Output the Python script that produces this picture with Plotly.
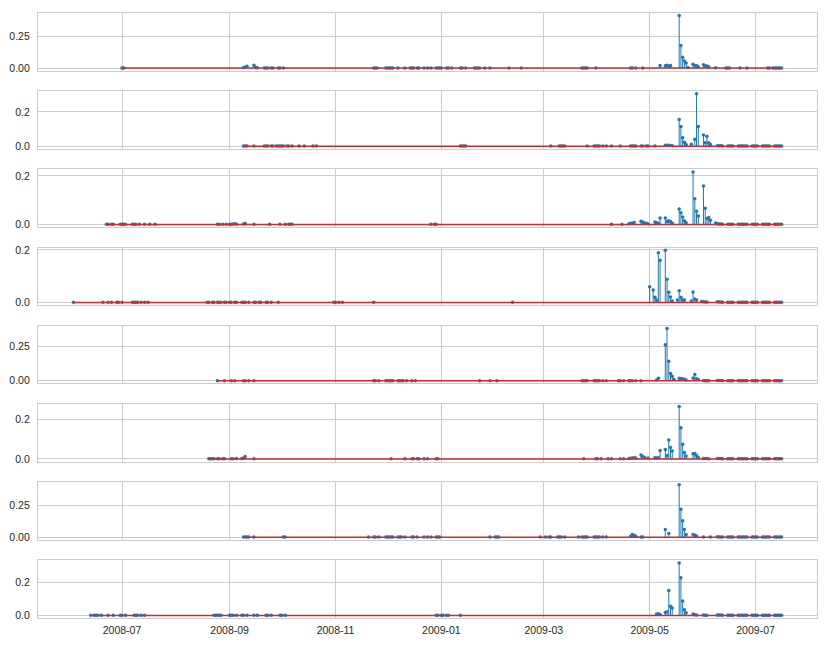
import plotly.graph_objects as go
from plotly.subplots import make_subplots
import pandas as pd

# ---------------- data (date, value) ----------------
s1 = [
    ("2008-07-01", 0.001), ("2008-07-02", 0.001),
    ("2008-09-09", 0.005), ("2008-09-10", 0.009), ("2008-09-11", 0.014), ("2008-09-15", 0.022),
    ("2008-09-16", 0.004), ("2008-09-17", 0.002),
    ("2008-09-21", 0.001), ("2008-09-22", 0.001), ("2008-09-23", 0.001), ("2008-09-25", 0.001), ("2008-09-26", 0.001),
    ("2008-09-29", 0.001), ("2008-09-30", 0.001), ("2008-10-02", 0.001),
    ("2008-11-23", 0.001), ("2008-11-24", 0.001), ("2008-11-25", 0.001),
    ("2008-11-30", 0.001), ("2008-12-01", 0.001), ("2008-12-02", 0.001), ("2008-12-03", 0.001), ("2008-12-04", 0.001),
    ("2008-12-07", 0.001), ("2008-12-11", 0.001), ("2008-12-14", 0.001), ("2008-12-15", 0.001), ("2008-12-16", 0.001),
    ("2008-12-18", 0.001), ("2008-12-19", 0.001), ("2008-12-22", 0.001), ("2008-12-24", 0.001), ("2008-12-26", 0.001),
    ("2008-12-29", 0.001), ("2008-12-30", 0.001), ("2008-12-31", 0.001), ("2009-01-01", 0.001),
    ("2009-01-04", 0.001), ("2009-01-05", 0.001), ("2009-01-07", 0.001), ("2009-01-12", 0.001), ("2009-01-13", 0.001),
    ("2009-01-15", 0.001), ("2009-01-20", 0.001), ("2009-01-21", 0.001), ("2009-01-22", 0.001), ("2009-01-23", 0.001),
    ("2009-01-26", 0.001), ("2009-01-29", 0.001), ("2009-02-09", 0.001), ("2009-02-16", 0.001),
    ("2009-03-23", 0.001), ("2009-03-24", 0.001), ("2009-03-25", 0.001), ("2009-03-26", 0.001), ("2009-03-31", 0.001),
    ("2009-04-20", 0.001), ("2009-04-21", 0.001), ("2009-04-23", 0.001), ("2009-04-27", 0.001),
    ("2009-05-07", 0.020), ("2009-05-10", 0.018), ("2009-05-11", 0.022), ("2009-05-12", 0.014), ("2009-05-13", 0.020),
    ("2009-05-18", 0.417), ("2009-05-19", 0.180), ("2009-05-20", 0.086), ("2009-05-21", 0.055), ("2009-05-22", 0.040),
    ("2009-05-23", 0.005),
    ("2009-05-26", 0.029), ("2009-05-27", 0.020), ("2009-05-28", 0.018), ("2009-05-29", 0.010),
    ("2009-06-01", 0.025), ("2009-06-02", 0.015), ("2009-06-03", 0.016), ("2009-06-04", 0.010),
    ("2009-06-08", 0.002), ("2009-06-14", 0.001), ("2009-06-15", 0.001), ("2009-06-16", 0.001),
    ("2009-06-22", 0.001), ("2009-06-26", 0.001),
    ("2009-07-08", 0.001), ("2009-07-09", 0.001), ("2009-07-11", 0.001), ("2009-07-12", 0.001),
    ("2009-07-13", 0.001), ("2009-07-14", 0.001), ("2009-07-15", 0.001), ("2009-07-16", 0.001),
]

tail_dates = ["2009-06-09", "2009-06-10", "2009-06-11", "2009-06-12",
              "2009-06-15", "2009-06-16", "2009-06-17", "2009-06-18",
              "2009-06-21", "2009-06-22", "2009-06-23", "2009-06-24", "2009-06-25", "2009-06-26",
              "2009-06-29", "2009-06-30", "2009-07-01", "2009-07-02",
              "2009-07-05", "2009-07-06", "2009-07-07", "2009-07-08", "2009-07-09",
              "2009-07-12", "2009-07-13", "2009-07-14", "2009-07-15", "2009-07-16"]
tail_values = [0.003, 0.002, 0.002, 0.001,
               0.001, 0.001, 0.001, 0.001,
               0.001, 0.001, 0.001, 0.001, 0.001, 0.001,
               0.001, 0.001, 0.001, 0.001,
               0.001, 0.001, 0.001, 0.001, 0.001,
               0.001, 0.001, 0.001, 0.001, 0.001]
tail = list(zip(tail_dates, tail_values))

s2 = [
    ("2008-09-09", 0.001), ("2008-09-10", 0.001), ("2008-09-11", 0.001), ("2008-09-15", 0.001),
    ("2008-09-21", 0.001), ("2008-09-22", 0.001), ("2008-09-23", 0.001), ("2008-09-25", 0.001), ("2008-09-26", 0.001),
    ("2008-09-28", 0.001), ("2008-09-29", 0.001), ("2008-09-30", 0.001), ("2008-10-01", 0.001), ("2008-10-02", 0.001),
    ("2008-10-04", 0.001), ("2008-10-05", 0.001), ("2008-10-07", 0.001), ("2008-10-11", 0.001), ("2008-10-14", 0.001),
    ("2008-10-19", 0.001), ("2008-10-21", 0.001),
    ("2009-01-12", 0.001), ("2009-01-13", 0.001), ("2009-01-14", 0.001), ("2009-01-15", 0.001),
    ("2009-03-05", 0.001), ("2009-03-10", 0.001), ("2009-03-11", 0.001), ("2009-03-12", 0.001), ("2009-03-13", 0.001),
    ("2009-03-26", 0.001), ("2009-03-30", 0.001), ("2009-03-31", 0.001), ("2009-04-01", 0.001), ("2009-04-02", 0.001),
    ("2009-04-04", 0.001), ("2009-04-06", 0.001), ("2009-04-09", 0.001), ("2009-04-14", 0.001),
    ("2009-04-20", 0.001), ("2009-04-21", 0.001), ("2009-04-22", 0.001), ("2009-04-23", 0.001),
    ("2009-04-26", 0.001), ("2009-04-27", 0.001), ("2009-04-29", 0.001), ("2009-04-30", 0.001), ("2009-05-04", 0.001),
    ("2009-05-10", 0.005), ("2009-05-11", 0.005), ("2009-05-12", 0.006), ("2009-05-13", 0.004), ("2009-05-14", 0.003),
    ("2009-05-18", 0.156), ("2009-05-19", 0.115), ("2009-05-20", 0.050), ("2009-05-21", 0.023), ("2009-05-22", 0.010),
    ("2009-05-25", 0.012), ("2009-05-27", 0.040), ("2009-05-28", 0.306), ("2009-05-29", 0.115),
    ("2009-06-01", 0.065), ("2009-06-02", 0.020), ("2009-06-03", 0.058), ("2009-06-04", 0.020), ("2009-06-05", 0.010),
] + tail

s3 = [
    ("2008-06-22", 0.001), ("2008-06-23", 0.001), ("2008-06-25", 0.001), ("2008-06-26", 0.001),
    ("2008-06-30", 0.001), ("2008-07-01", 0.001), ("2008-07-02", 0.001), ("2008-07-03", 0.001),
    ("2008-07-07", 0.001), ("2008-07-08", 0.001), ("2008-07-09", 0.001), ("2008-07-11", 0.001),
    ("2008-07-14", 0.001), ("2008-07-17", 0.001), ("2008-07-20", 0.001),
    ("2008-08-25", 0.001), ("2008-08-26", 0.001), ("2008-08-28", 0.001), ("2008-08-30", 0.001),
    ("2008-09-01", 0.001), ("2008-09-02", 0.001), ("2008-09-03", 0.002), ("2008-09-04", 0.003), ("2008-09-05", 0.001),
    ("2008-09-09", 0.002), ("2008-09-10", 0.004), ("2008-09-15", 0.001), ("2008-09-24", 0.001), ("2008-09-30", 0.001),
    ("2008-10-03", 0.001), ("2008-10-05", 0.001), ("2008-10-06", 0.001), ("2008-10-07", 0.001),
    ("2008-12-26", 0.001), ("2008-12-28", 0.001), ("2008-12-29", 0.001),
    ("2009-04-09", 0.001), ("2009-04-15", 0.001), ("2009-04-19", 0.003), ("2009-04-20", 0.005), ("2009-04-21", 0.005),
    ("2009-04-22", 0.008), ("2009-04-26", 0.013), ("2009-04-27", 0.010), ("2009-04-28", 0.006), ("2009-04-29", 0.005),
    ("2009-04-30", 0.003),
    ("2009-05-04", 0.010), ("2009-05-05", 0.007), ("2009-05-06", 0.005), ("2009-05-07", 0.026),
    ("2009-05-10", 0.026), ("2009-05-11", 0.012), ("2009-05-12", 0.015), ("2009-05-13", 0.012), ("2009-05-14", 0.005),
    ("2009-05-18", 0.063), ("2009-05-19", 0.048), ("2009-05-20", 0.031), ("2009-05-21", 0.015), ("2009-05-22", 0.007),
    ("2009-05-26", 0.216), ("2009-05-27", 0.106), ("2009-05-28", 0.054), ("2009-05-29", 0.035),
    ("2009-06-01", 0.158), ("2009-06-02", 0.067), ("2009-06-03", 0.024), ("2009-06-04", 0.028), ("2009-06-05", 0.017),
    ("2009-06-08", 0.006),
] + tail

s4 = [
    ("2008-06-03", 0.001), ("2008-06-20", 0.001), ("2008-06-23", 0.001), ("2008-06-25", 0.001),
    ("2008-06-28", 0.001), ("2008-06-29", 0.001), ("2008-07-01", 0.001),
    ("2008-07-07", 0.001), ("2008-07-08", 0.001), ("2008-07-09", 0.001), ("2008-07-10", 0.001), ("2008-07-12", 0.001),
    ("2008-07-14", 0.001), ("2008-07-16", 0.001),
    ("2008-08-19", 0.001), ("2008-08-20", 0.001), ("2008-08-22", 0.001), ("2008-08-23", 0.001),
    ("2008-08-25", 0.001), ("2008-08-26", 0.001), ("2008-08-27", 0.001), ("2008-08-29", 0.001), ("2008-08-30", 0.001),
    ("2008-09-01", 0.001), ("2008-09-02", 0.001), ("2008-09-04", 0.001), ("2008-09-05", 0.001),
    ("2008-09-08", 0.001), ("2008-09-09", 0.001), ("2008-09-10", 0.001), ("2008-09-12", 0.001),
    ("2008-09-15", 0.001), ("2008-09-16", 0.001), ("2008-09-18", 0.001), ("2008-09-19", 0.001),
    ("2008-09-22", 0.001), ("2008-09-23", 0.001), ("2008-09-25", 0.001), ("2008-09-29", 0.001),
    ("2008-10-31", 0.001), ("2008-11-01", 0.001), ("2008-11-03", 0.001), ("2008-11-05", 0.001), ("2008-11-23", 0.001),
    ("2009-02-11", 0.001),
    ("2009-05-01", 0.060), ("2009-05-03", 0.048), ("2009-05-04", 0.020), ("2009-05-05", 0.010),
    ("2009-05-06", 0.189), ("2009-05-07", 0.161),
    ("2009-05-10", 0.199), ("2009-05-11", 0.089), ("2009-05-12", 0.039), ("2009-05-13", 0.021), ("2009-05-14", 0.006),
    ("2009-05-17", 0.010), ("2009-05-18", 0.045), ("2009-05-19", 0.020), ("2009-05-20", 0.010), ("2009-05-21", 0.010),
    ("2009-05-25", 0.006), ("2009-05-26", 0.040), ("2009-05-27", 0.014), ("2009-05-28", 0.010),
    ("2009-05-31", 0.004), ("2009-06-01", 0.003), ("2009-06-02", 0.002), ("2009-06-03", 0.002),
] + tail

s5 = [
    ("2008-08-25", 0.001), ("2008-08-29", 0.001), ("2008-09-02", 0.001), ("2008-09-04", 0.001),
    ("2008-09-09", 0.001), ("2008-09-10", 0.001), ("2008-09-12", 0.001), ("2008-09-15", 0.001),
    ("2008-11-23", 0.001), ("2008-11-24", 0.001), ("2008-11-26", 0.001),
    ("2008-11-30", 0.001), ("2008-12-01", 0.001), ("2008-12-02", 0.001), ("2008-12-03", 0.001), ("2008-12-04", 0.001),
    ("2008-12-07", 0.001), ("2008-12-08", 0.001), ("2008-12-09", 0.001), ("2008-12-10", 0.001), ("2008-12-12", 0.001),
    ("2008-12-15", 0.001), ("2008-12-17", 0.001),
    ("2009-01-23", 0.001), ("2009-01-29", 0.001), ("2009-02-02", 0.001),
    ("2009-03-23", 0.001), ("2009-03-24", 0.001), ("2009-03-25", 0.001), ("2009-03-26", 0.001),
    ("2009-03-30", 0.001), ("2009-03-31", 0.001), ("2009-04-01", 0.001), ("2009-04-02", 0.001), ("2009-04-04", 0.001),
    ("2009-04-06", 0.001), ("2009-04-13", 0.001), ("2009-04-14", 0.001), ("2009-04-16", 0.001),
    ("2009-04-19", 0.001), ("2009-04-20", 0.001), ("2009-04-21", 0.001), ("2009-04-23", 0.001), ("2009-04-26", 0.001),
    ("2009-05-05", 0.005), ("2009-05-06", 0.019),
    ("2009-05-10", 0.262), ("2009-05-11", 0.382), ("2009-05-12", 0.142), ("2009-05-13", 0.053), ("2009-05-14", 0.034),
    ("2009-05-15", 0.010),
    ("2009-05-18", 0.019), ("2009-05-19", 0.016), ("2009-05-20", 0.014), ("2009-05-21", 0.012), ("2009-05-22", 0.005),
    ("2009-05-26", 0.020), ("2009-05-27", 0.046), ("2009-05-28", 0.015), ("2009-05-29", 0.010),
    ("2009-06-01", 0.002), ("2009-06-02", 0.001), ("2009-06-03", 0.001), ("2009-06-04", 0.001),
] + tail

s6 = [
    ("2008-08-20", 0.001), ("2008-08-21", 0.001), ("2008-08-22", 0.001), ("2008-08-23", 0.001), ("2008-08-25", 0.001),
    ("2008-08-26", 0.001), ("2008-08-28", 0.001), ("2008-08-29", 0.001),
    ("2008-09-02", 0.001), ("2008-09-03", 0.001), ("2008-09-05", 0.002),
    ("2008-09-08", 0.003), ("2008-09-09", 0.005), ("2008-09-10", 0.012), ("2008-09-15", 0.001),
    ("2008-12-03", 0.001), ("2008-12-11", 0.001), ("2008-12-15", 0.001), ("2008-12-16", 0.001), ("2008-12-18", 0.001),
    ("2008-12-19", 0.001), ("2008-12-22", 0.001), ("2008-12-24", 0.001), ("2008-12-29", 0.001), ("2008-12-30", 0.001),
    ("2009-03-24", 0.001), ("2009-03-31", 0.001), ("2009-04-01", 0.001), ("2009-04-03", 0.001), ("2009-04-07", 0.001),
    ("2009-04-09", 0.001), ("2009-04-14", 0.001), ("2009-04-16", 0.001),
    ("2009-04-19", 0.003), ("2009-04-20", 0.004), ("2009-04-21", 0.005), ("2009-04-22", 0.006), ("2009-04-23", 0.005),
    ("2009-04-26", 0.020), ("2009-04-27", 0.012), ("2009-04-28", 0.008), ("2009-04-30", 0.005),
    ("2009-05-04", 0.006), ("2009-05-05", 0.005), ("2009-05-06", 0.006), ("2009-05-07", 0.043),
    ("2009-05-10", 0.048), ("2009-05-11", 0.017), ("2009-05-12", 0.096), ("2009-05-13", 0.058), ("2009-05-14", 0.040),
    ("2009-05-18", 0.264), ("2009-05-19", 0.157), ("2009-05-20", 0.074), ("2009-05-21", 0.033), ("2009-05-22", 0.015),
    ("2009-05-26", 0.026), ("2009-05-27", 0.028), ("2009-05-28", 0.017), ("2009-05-29", 0.008),
    ("2009-06-01", 0.003), ("2009-06-02", 0.002), ("2009-06-03", 0.002), ("2009-06-04", 0.001),
] + tail

s7 = [
    ("2008-09-09", 0.001), ("2008-09-10", 0.001), ("2008-09-11", 0.001), ("2008-09-12", 0.001), ("2008-09-15", 0.001),
    ("2008-10-02", 0.001), ("2008-10-03", 0.001),
    ("2008-11-20", 0.001), ("2008-11-23", 0.001), ("2008-11-24", 0.001), ("2008-11-26", 0.001),
    ("2008-11-30", 0.001), ("2008-12-01", 0.001), ("2008-12-02", 0.001), ("2008-12-03", 0.001), ("2008-12-04", 0.001),
    ("2008-12-07", 0.001), ("2008-12-08", 0.001), ("2008-12-09", 0.001), ("2008-12-11", 0.001),
    ("2008-12-15", 0.001), ("2008-12-16", 0.001), ("2008-12-18", 0.001), ("2008-12-22", 0.001), ("2008-12-24", 0.001),
    ("2008-12-26", 0.001), ("2008-12-29", 0.001), ("2008-12-30", 0.001), ("2008-12-31", 0.001),
    ("2009-01-29", 0.001), ("2009-02-01", 0.001), ("2009-02-02", 0.001), ("2009-02-03", 0.001),
    ("2009-02-27", 0.001), ("2009-03-02", 0.001), ("2009-03-04", 0.001), ("2009-03-05", 0.001),
    ("2009-03-09", 0.001), ("2009-03-10", 0.001), ("2009-03-11", 0.001), ("2009-03-13", 0.001), ("2009-03-21", 0.001),
    ("2009-03-23", 0.001), ("2009-03-24", 0.001), ("2009-03-25", 0.001), ("2009-03-26", 0.001),
    ("2009-03-30", 0.001), ("2009-03-31", 0.001), ("2009-04-01", 0.001), ("2009-04-02", 0.001), ("2009-04-04", 0.001),
    ("2009-04-06", 0.001),
    ("2009-04-20", 0.008), ("2009-04-21", 0.020), ("2009-04-22", 0.015), ("2009-04-23", 0.008),
    ("2009-04-26", 0.002), ("2009-04-27", 0.002),
    ("2009-05-10", 0.059), ("2009-05-12", 0.028),
    ("2009-05-18", 0.408), ("2009-05-19", 0.217), ("2009-05-20", 0.128), ("2009-05-21", 0.059), ("2009-05-22", 0.020),
    ("2009-05-26", 0.020), ("2009-05-27", 0.015), ("2009-05-28", 0.010),
    ("2009-06-01", 0.002), ("2009-06-05", 0.001),
] + tail

s8 = [
    ("2008-06-13", 0.001), ("2008-06-15", 0.001), ("2008-06-16", 0.001), ("2008-06-17", 0.001), ("2008-06-19", 0.001),
    ("2008-06-23", 0.001), ("2008-06-26", 0.001), ("2008-06-30", 0.001), ("2008-07-01", 0.001), ("2008-07-03", 0.001),
    ("2008-07-08", 0.001), ("2008-07-09", 0.001), ("2008-07-10", 0.001), ("2008-07-12", 0.001), ("2008-07-14", 0.001),
    ("2008-08-23", 0.001), ("2008-08-24", 0.001), ("2008-08-25", 0.001), ("2008-08-26", 0.001), ("2008-08-27", 0.001),
    ("2008-09-01", 0.001), ("2008-09-02", 0.001), ("2008-09-03", 0.001), ("2008-09-05", 0.001),
    ("2008-09-08", 0.001), ("2008-09-09", 0.001), ("2008-09-11", 0.001), ("2008-09-15", 0.001), ("2008-09-17", 0.001),
    ("2008-09-22", 0.001), ("2008-09-23", 0.001), ("2008-09-25", 0.001), ("2008-09-30", 0.001), ("2008-10-01", 0.001),
    ("2008-10-03", 0.001),
    ("2008-12-29", 0.001), ("2008-12-30", 0.001), ("2009-01-01", 0.001), ("2009-01-02", 0.001), ("2009-01-04", 0.001),
    ("2009-01-05", 0.001), ("2009-01-12", 0.001),
    ("2009-05-05", 0.008), ("2009-05-06", 0.010), ("2009-05-07", 0.006),
    ("2009-05-10", 0.018), ("2009-05-11", 0.022), ("2009-05-12", 0.149), ("2009-05-13", 0.055), ("2009-05-14", 0.044),
    ("2009-05-18", 0.315), ("2009-05-19", 0.226), ("2009-05-20", 0.087), ("2009-05-21", 0.034), ("2009-05-22", 0.016),
    ("2009-05-26", 0.008), ("2009-05-27", 0.004), ("2009-05-28", 0.003),
    ("2009-06-01", 0.002), ("2009-06-02", 0.001), ("2009-06-03", 0.001),
] + tail

series = [s1, s2, s3, s4, s5, s6, s7, s8]
ytick_vals = [[0, 0.25], [0, 0.2], [0, 0.2], [0, 0.2], [0, 0.25], [0, 0.2], [0, 0.25], [0, 0.2]]
ytick_text = [["0.00", "0.25"], ["0.0", "0.2"], ["0.0", "0.2"], ["0.0", "0.2"],
              ["0.00", "0.25"], ["0.0", "0.2"], ["0.00", "0.25"], ["0.0", "0.2"]]

# ---------------- styling ----------------
BLUE = "#1f77b4"
RED = "#d62728"
GRID = "#cccccc"
TEXT = "#262626"
FONT = "Arial, 'Liberation Sans', sans-serif"

n = len(series)
fig = make_subplots(rows=n, cols=1, shared_xaxes=True, vertical_spacing=0.034)

all_dates = []
for i, s in enumerate(series, start=1):
    dates = [p[0] for p in s]
    vals = [p[1] for p in s]
    all_dates += dates
    sx, sy = [], []
    for d, v in zip(dates, vals):
        sx += [d, d, None]
        sy += [0, v, None]
    fig.add_trace(go.Scatter(x=sx, y=sy, mode="lines", line=dict(color=BLUE, width=1),
                             hoverinfo="skip", showlegend=False), row=i, col=1)
    fig.add_trace(go.Scatter(x=dates, y=vals, mode="markers",
                             marker=dict(color=BLUE, size=3.5, line=dict(width=0)),
                             showlegend=False), row=i, col=1)
    dsorted = sorted(dates)
    fig.add_trace(go.Scatter(x=[dsorted[0], dsorted[-1]], y=[0, 0], mode="lines",
                             line=dict(color=RED, width=1.5), hoverinfo="skip",
                             showlegend=False), row=i, col=1)
    ymax = max(vals)
    fig.update_yaxes(range=[-0.05 * ymax, 1.05 * ymax], tickvals=ytick_vals[i - 1],
                     ticktext=ytick_text[i - 1], row=i, col=1)

dt = pd.to_datetime(all_dates)
pad = (dt.max() - dt.min()) * 0.05
xr = [dt.min() - pad, dt.max() + pad]

fig.update_xaxes(range=xr, dtick="M2", tick0="2008-07-01", tickformat="%Y-%m",
                 showgrid=True, gridcolor=GRID, gridwidth=1, zeroline=False,
                 showline=True, mirror=True, linecolor=GRID, linewidth=1.25,
                 ticks="", ticklabelstandoff=2, automargin=False,
                 tickfont=dict(family=FONT, size=10.5, color=TEXT))
fig.update_yaxes(showgrid=True, gridcolor=GRID, gridwidth=1, zeroline=False,
                 showline=True, mirror=True, linecolor=GRID, linewidth=1.25,
                 ticks="", ticklabelstandoff=5, automargin=False,
                 tickfont=dict(family=FONT, size=10.5, color=TEXT))

# page body has an 8px margin, so the figure is sized to fit the 830x646 window
fig.update_layout(width=814, height=630, margin=dict(l=30, r=5, t=5, b=20, autoexpand=False),
                  plot_bgcolor="white", paper_bgcolor="white",
                  font=dict(family=FONT, size=10.5, color=TEXT), showlegend=False)

fig.write_html("out.html")
